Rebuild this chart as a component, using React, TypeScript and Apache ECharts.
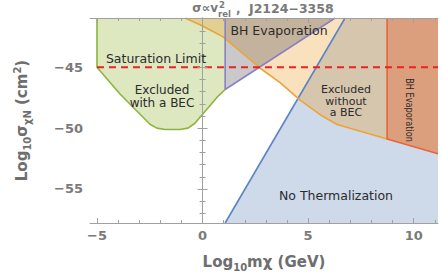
import React, { useEffect, useRef } from "react";
import * as echarts from "echarts";

// Axis extents (log10 values)
const X_MIN = -5.33;
const X_MAX = 11.15;
const Y_MIN = -57.8;
const Y_MAX = -40.95;

const X_MAJOR = [-5, 0, 5, 10];
const X_MINOR = [-5, -4, -3, -2, -1, 0, 1, 2, 3, 4, 5, 6, 7, 8, 9, 10, 11];
const Y_MAJOR = [-55, -50, -45];
const Y_MINOR = [-57, -56, -55, -54, -53, -52, -51, -50, -49, -48, -47, -46, -45, -44, -43, -42, -41];

// Region boundaries [log10 m, log10 sigma]
const GREEN_EDGE = [
  [-5.0, Y_MAX], [-5.0, -45.0], [-3.91, -47.2], [-2.49, -49.68], [-2.16, -50.0],
  [-1.78, -50.12], [-1.07, -50.12], [-0.69, -50.0], [-0.36, -49.6], [0.69, -47.46], [1.07, -46.83],
];
const PURPLE_EDGE = [[1.07, Y_MAX], [1.07, -46.83], [6.28, Y_MAX]];
const ORANGE_EDGE = [
  [-0.83, Y_MAX], [-0.12, -41.5], [0.5, -42.06], [0.97, -42.5], [2.73, -45.08], [3.67, -46.27],
  [4.62, -47.7], [5.57, -48.9], [6.37, -49.7], [8.74, -50.9],
];
const RED_EDGE = [[8.74, Y_MAX], [8.74, -50.9], [11.15, -52.1]];
const BLUE_EDGE = [[1.07, Y_MIN], [6.75, Y_MAX]];
const SATURATION = [[-5.0, -45], [X_MAX, -45]];

const GREEN_FILL = [...GREEN_EDGE, [1.07, Y_MAX]];
const PURPLE_FILL = PURPLE_EDGE;
const ORANGE_FILL = [...ORANGE_EDGE, [11.15, -52.1], [X_MAX, Y_MAX]];
const RED_FILL = [...RED_EDGE, [X_MAX, Y_MAX]];
const BLUE_FILL = [...BLUE_EDGE, [X_MAX, Y_MAX], [X_MAX, Y_MIN]];

const fmt = (v: number) => (v < 0 ? "\u2212" + Math.abs(v) : String(v));

const FRAME = "#a0a0a0";
const LABEL_GREY = "#7a7a7a";

function polySeries(pts: number[][], fill: string, z: number) {
  return {
    type: "custom",
    xAxisIndex: 0,
    yAxisIndex: 0,
    data: pts,
    z,
    silent: true,
    clip: true,
    encode: { x: 0, y: 1 },
    renderItem: (params: any, api: any) => {
      if (params.dataIndex !== 0) return { type: "group", children: [] };
      const points = pts.map((p) => api.coord(p));
      return { type: "polygon", shape: { points }, style: { fill } };
    },
  };
}

function lineSeries(pts: number[][], color: string, z: number, width = 1.6, type: any = "solid") {
  return {
    type: "line",
    xAxisIndex: 0,
    yAxisIndex: 0,
    data: pts,
    z,
    silent: true,
    symbol: "none",
    clip: true,
    lineStyle: { color, width, type },
  };
}

function xAxes() {
  const base = { type: "value", min: X_MIN, max: X_MAX, splitLine: { show: false }, z: 10 };
  return [
    {
      ...base,
      position: "bottom",
      axisLine: { show: true, lineStyle: { color: FRAME, width: 1 } },
      axisTick: { show: true, inside: true, length: 5, customValues: X_MAJOR, lineStyle: { color: FRAME } },
      axisLabel: {
        show: true, customValues: X_MAJOR, formatter: fmt, margin: 6,
        color: LABEL_GREY, fontFamily: "DejaVu Sans", fontWeight: "bold", fontSize: 13,
      },
      name: "{a|Log}{s|10}{a|m\u03c7 (GeV)}",
      nameLocation: "middle",
      nameGap: 29,
      nameTextStyle: {
        rich: {
          a: { fontFamily: "DejaVu Sans", fontWeight: "bold", fontSize: 15, color: "#6e6e6e", lineHeight: 20, verticalAlign: "middle" },
          s: { fontFamily: "DejaVu Sans", fontWeight: "bold", fontSize: 10, color: "#6e6e6e", lineHeight: 12, verticalAlign: "bottom" },
        },
      },
    },
    {
      ...base,
      position: "bottom",
      axisLine: { show: false },
      axisTick: { show: true, inside: true, length: 3, customValues: X_MINOR, lineStyle: { color: FRAME } },
      axisLabel: { show: false },
    },
    {
      ...base,
      position: "top",
      axisLine: { show: true, lineStyle: { color: FRAME, width: 1 } },
      axisTick: { show: true, inside: true, length: 5, customValues: X_MAJOR, lineStyle: { color: FRAME } },
      axisLabel: { show: false },
    },
    {
      ...base,
      position: "top",
      axisLine: { show: false },
      axisTick: { show: true, inside: true, length: 3, customValues: X_MINOR, lineStyle: { color: FRAME } },
      axisLabel: { show: false },
    },
  ];
}

function yAxes() {
  const base = { type: "value", min: Y_MIN, max: Y_MAX, splitLine: { show: false }, z: 10 };
  return [
    {
      ...base,
      position: "left",
      axisLine: { show: true, lineStyle: { color: FRAME, width: 1 } },
      axisTick: { show: true, inside: true, length: 5, customValues: Y_MAJOR, lineStyle: { color: FRAME } },
      axisLabel: {
        show: true, customValues: Y_MAJOR, formatter: fmt, margin: 7,
        color: LABEL_GREY, fontFamily: "DejaVu Sans", fontWeight: "bold", fontSize: 13,
      },
      name: "{a|Log}{s|10}{a|\u03c3}{s|\u03c7N}{a| (cm}{p|2}{a|)}",
      nameLocation: "middle",
      nameGap: 58,
      nameTextStyle: {
        rich: {
          a: { fontFamily: "DejaVu Sans", fontWeight: "bold", fontSize: 15, color: "#6e6e6e", lineHeight: 20, verticalAlign: "middle" },
          s: { fontFamily: "DejaVu Sans", fontWeight: "bold", fontSize: 10, color: "#6e6e6e", lineHeight: 12, verticalAlign: "bottom" },
          p: { fontFamily: "DejaVu Sans", fontWeight: "bold", fontSize: 10, color: "#6e6e6e", lineHeight: 12, verticalAlign: "top" },
        },
      },
    },
    {
      ...base,
      position: "left",
      axisLine: { show: false },
      axisTick: { show: true, inside: true, length: 3, customValues: Y_MINOR, lineStyle: { color: FRAME } },
      axisLabel: { show: false },
    },
    {
      ...base,
      position: "right",
      axisLine: { show: true, lineStyle: { color: FRAME, width: 1 } },
      axisTick: { show: true, inside: true, length: 5, customValues: Y_MAJOR, lineStyle: { color: FRAME } },
      axisLabel: { show: false },
    },
    {
      ...base,
      position: "right",
      axisLine: { show: false },
      axisTick: { show: true, inside: true, length: 3, customValues: Y_MINOR, lineStyle: { color: FRAME } },
      axisLabel: { show: false },
    },
  ];
}

const TEXT_DARK = "#2b2b2b";
function label(text: string, x: number, y: number, extra: any = {}, styleExtra: any = {}) {
  return {
    type: "text",
    x,
    y,
    z: 20,
    silent: true,
    ...extra,
    style: {
      text,
      fill: TEXT_DARK,
      fontFamily: "DejaVu Sans",
      fontSize: 12.5,
      align: "center",
      verticalAlign: "middle",
      ...styleExtra,
    },
  };
}

const TITLE_STYLE = { fill: "#7a7a7a", fontFamily: "DejaVu Sans", fontWeight: "bold", verticalAlign: "middle" };

export default function App() {
  const ref = useRef<HTMLDivElement>(null);
  useEffect(() => {
    if (!ref.current) return;
    const chart = echarts.init(ref.current, null, { renderer: "svg" });
    chart.setOption({
      animation: false,
      backgroundColor: "#ffffff",
      grid: { left: 90, right: 5, top: 18, bottom: 47, containLabel: false },
      xAxis: xAxes(),
      yAxis: yAxes(),
      series: [
        polySeries(BLUE_FILL, "rgba(94,129,181,0.30)", 1),
        polySeries(GREEN_FILL, "rgba(143,176,48,0.30)", 2),
        polySeries(ORANGE_FILL, "rgba(235,156,41,0.30)", 3),
        polySeries(PURPLE_FILL, "rgba(60,62,68,0.28)", 4),
        polySeries(RED_FILL, "rgba(225,105,60,0.42)", 5),
        lineSeries(BLUE_EDGE, "#5a84c6", 6),
        lineSeries(GREEN_EDGE, "#8db53d", 6),
        lineSeries(ORANGE_EDGE, "#eaa53a", 6),
        lineSeries(PURPLE_EDGE, "#8a80c4", 6),
        lineSeries(RED_EDGE, "#ea6437", 6),
        lineSeries(SATURATION, "#ee2020", 7, 1.8, [7, 5]),
      ],
      graphic: [
        { type: "text", x: 218, y: 8, z: 20, silent: true, style: { ...TITLE_STYLE, text: "\u03c3\u221dv", fontSize: 12, align: "right" } },
        { type: "text", x: 219, y: 5, z: 20, silent: true, style: { ...TITLE_STYLE, text: "2", fontSize: 8.5, align: "left" } },
        { type: "text", x: 218, y: 14, z: 20, silent: true, style: { ...TITLE_STYLE, text: "rel", fontSize: 8.5, align: "left" } },
        { type: "text", x: 236, y: 9, z: 20, silent: true, style: { ...TITLE_STYLE, text: ",", fontSize: 12, align: "left" } },
        { type: "text", x: 249, y: 8, z: 20, silent: true, style: { ...TITLE_STYLE, text: "J2124\u22123358", fontSize: 12.5, align: "left" } },
        label("Saturation Limit", 156, 58),
        label("BH Evaporation", 279, 30),
        label("Excluded\nwith a BEC", 162, 96, {}, { fontSize: 12, lineHeight: 13 }),
        label("Excluded\nwithout\na BEC", 346, 101, {}, { fontSize: 11, lineHeight: 11.5 }),
        label("No Thermalization", 336, 195),
        label("BH Evaporation", 410, 110, { rotation: -Math.PI / 2, scaleX: 0.78 }, { fontSize: 10.5 }),
      ],
    });
    return () => chart.dispose();
  }, []);
  return (
    <div
      ref={ref}
      style={{ position: "absolute", left: 0, top: 0, width: 443, height: 277 }}
    />
  );
}
